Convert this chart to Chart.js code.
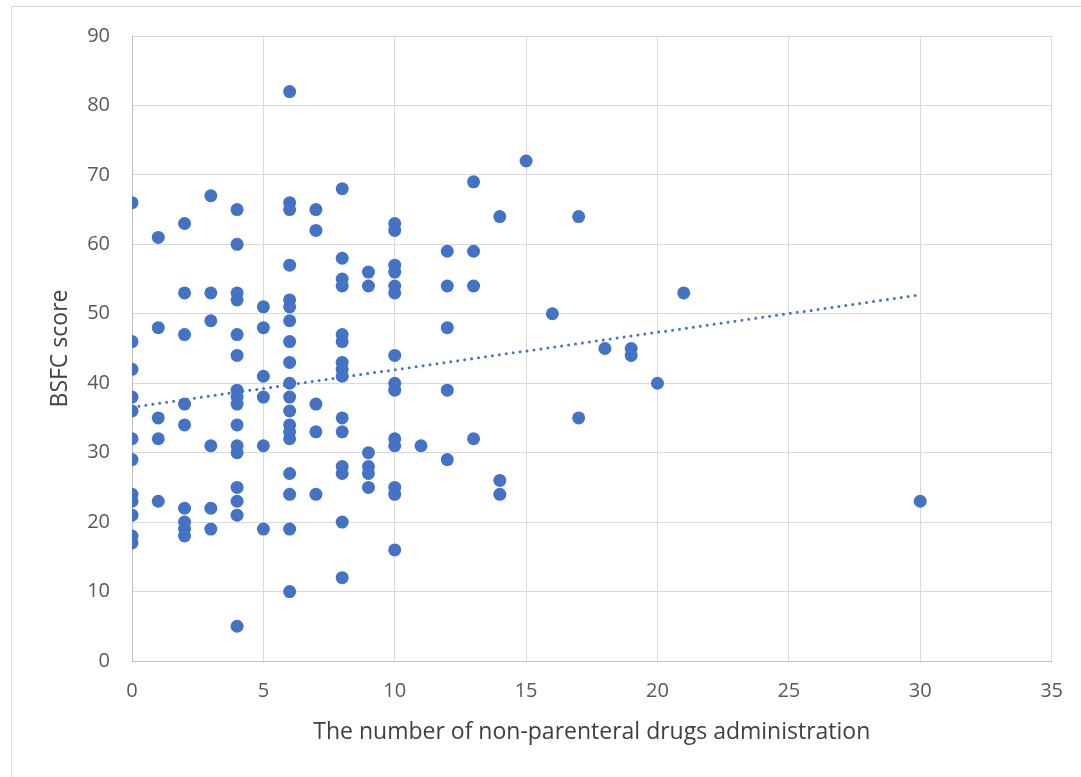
<!DOCTYPE html>
<html>
<head>
<meta charset="utf-8">
<script src="https://cdn.jsdelivr.net/npm/chart.js@4.4.1/dist/chart.umd.min.js"></script>
<style>
  html, body { margin: 0; padding: 0; background: #ffffff; }
  #frame { position: absolute; left: 11px; top: 6px; width: 1200px; height: 900px; border: 1px solid #d9d9d9; box-sizing: border-box; }
  #wrap { position: absolute; left: 0; top: 0; width: 1081px; height: 777px; }
</style>
</head>
<body>
<div id="frame"></div>
<div id="wrap"><canvas id="c" width="1081" height="777"></canvas></div>
<script>
// Number of non-parenteral drugs administration (x) for each patient
const drugCounts = [
  0,0,0,0,0,0,0,0,0,0,0,0,
  1,1,1,1,1,
  2,2,2,2,2,2,2,2,2,
  3,3,3,3,3,3,
  4,4,4,4,4,4,4,4,4,4,4,4,4,4,4,4,
  5,5,5,5,5,5,
  6,6,6,6,6,6,6,6,6,6,6,6,6,6,6,6,6,6,6,
  7,7,7,7,7,
  8,8,8,8,8,8,8,8,8,8,8,8,8,8,8,
  9,9,9,9,9,9,
  10,10,10,10,10,10,10,10,10,10,10,10,10,10,
  11,
  12,12,12,12,12,
  13,13,13,13,
  14,14,14,
  15,
  16,
  17,17,
  18,
  19,19,
  20,
  21,
  30
];
// BSFC score (y) for each patient, same order
const bsfcScores = [
  66,46,42,38,36,32,29,24,23,21,18,17,
  61,48,35,32,23,
  63,53,47,37,34,22,20,19,18,
  67,53,49,31,22,19,
  65,60,53,52,47,44,39,38,37,34,31,30,25,23,21,5,
  51,48,41,38,31,19,
  82,66,65,57,52,51,49,46,43,40,38,36,34,33,32,27,24,19,10,
  65,62,37,33,24,
  68,58,55,54,47,46,43,42,41,35,33,28,27,20,12,
  56,54,30,28,27,25,
  63,62,57,56,54,53,44,40,39,32,31,25,24,16,
  31,
  59,54,48,39,29,
  69,59,54,32,
  64,26,24,
  72,
  50,
  64,35,
  45,
  45,44,
  40,
  53,
  23
];
const xTicks = [0, 5, 10, 15, 20, 25, 30, 35];
const yTicks = [0, 10, 20, 30, 40, 50, 60, 70, 80, 90];
const xTitle = 'The number of non-parenteral drugs administration';
const yTitle = 'BSFC score';

const points = drugCounts.map((x, i) => ({ x: x, y: bsfcScores[i] }));

// Linear trend line (least squares), like the spreadsheet's trendline
const n = points.length;
const mx = drugCounts.reduce((a, b) => a + b, 0) / n;
const my = bsfcScores.reduce((a, b) => a + b, 0) / n;
let sxy = 0, sxx = 0;
for (let i = 0; i < n; i++) { sxy += (drugCounts[i] - mx) * (bsfcScores[i] - my); sxx += (drugCounts[i] - mx) ** 2; }
const slope = sxy / sxx, intercept = my - slope * mx;
const xMin = Math.min(...drugCounts), xMax = Math.max(...drugCounts);
const trend = [{ x: xMin, y: intercept + slope * xMin }, { x: xMax, y: intercept + slope * xMax }];

const FONT = "'Open Sans', 'Liberation Sans', sans-serif";
const BLUE = '#4472C4';

new Chart(document.getElementById('c'), {
  type: 'scatter',
  data: {
    datasets: [
      { label: 'BSFC', data: points, backgroundColor: BLUE, borderColor: BLUE, pointRadius: 6.5, pointHoverRadius: 6.5, borderWidth: 0, order: 2 },
      { label: 'Trend', type: 'line', data: trend, borderColor: BLUE, borderWidth: 3, borderDash: [0, 7], borderCapStyle: 'round', pointRadius: 0, fill: false, order: 1 }
    ]
  },
  options: {
    responsive: false,
    animation: false,
    events: [],
    layout: { padding: { left: 0, top: 36, right: 29, bottom: 0 } },
    plugins: { legend: { display: false }, tooltip: { enabled: false } },
    scales: {
      x: {
        type: 'linear', min: 0, max: 35,
        afterBuildTicks: (s) => { s.ticks = xTicks.map(v => ({ value: v })); },
        afterFit: (s) => { s.height = 777 - 661; },
        grid: { color: '#d9d9d9', lineWidth: 1, drawTicks: false },
        border: { color: '#bfbfbf', width: 1 },
        ticks: { color: '#595959', font: { family: FONT, size: 20 }, padding: 18 },
        title: { display: true, text: xTitle, color: '#404040', font: { family: FONT, size: 23 }, padding: { top: 0, bottom: 31 } }
      },
      y: {
        type: 'linear', min: 0, max: 90,
        afterBuildTicks: (s) => { s.ticks = yTicks.map(v => ({ value: v })); },
        afterFit: (s) => { s.width = 132; },
        grid: { color: '#d9d9d9', lineWidth: 1, drawTicks: false },
        border: { color: '#bfbfbf', width: 1 },
        ticks: { color: '#595959', font: { family: FONT, size: 20 }, padding: 22 },
        title: { display: true, text: yTitle, color: '#404040', font: { family: FONT, size: 23 }, padding: { top: 47, bottom: 0 } }
      }
    }
  }
});
</script>
</body>
</html>
